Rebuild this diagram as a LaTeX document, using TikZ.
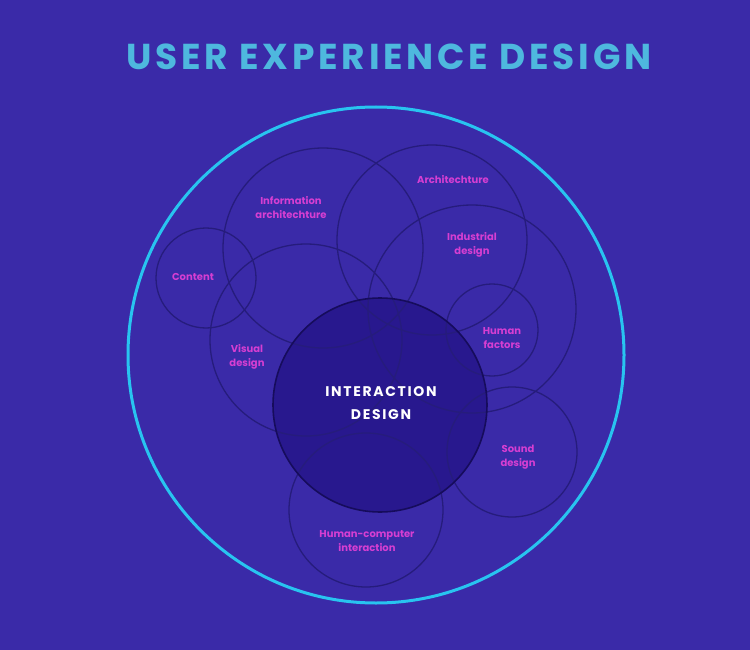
\documentclass[tikz,border=0pt]{standalone}
\usepackage{fontspec}
\setmainfont{Poppins}
\newfontfamily\spacedfont[LetterSpace=12]{Poppins}
\newfontfamily\titlefont[LetterSpace=10.5]{Poppins}
\definecolor{uxbg}{RGB}{58,42,168}
\definecolor{uxcyan}{RGB}{40,196,240}
\definecolor{uxtitle}{RGB}{78,184,222}
\definecolor{uxpink}{RGB}{214,62,210}
\definecolor{uxring}{RGB}{38,28,124}
\definecolor{uxcore}{RGB}{38,22,138}
\definecolor{uxcoreline}{RGB}{22,12,92}
\begin{document}
\begin{tikzpicture}[x=1pt,y=-1pt,
  ring/.style={draw=uxring,line width=1.3pt},
  area/.style={font=\bfseries\fontsize{10}{14}\selectfont,text=uxpink,align=center}]
\fill[uxbg] (0,0) rectangle (750,650);
\useasboundingbox (0,0) rectangle (750,650);
\node[font=\titlefont\bfseries\fontsize{36}{40}\selectfont,text=uxtitle] (title) at (389,57) {USER EXPERIENCE DESIGN};
% interaction core
\fill[uxcore,opacity=0.85] (380,405) circle (107);
% overlapping areas
\foreach \cx/\cy/\r in {323/248/100,432/240/95,472/309/104,492/330/46,206/278/50,306/340/96,512/452/65,366/510/77}
  \draw[ring] (\cx,\cy) circle (\r);
\draw[uxcoreline,line width=1.6pt] (380,405) circle (107);
\draw[uxcyan,line width=3pt] (376,355) circle (248);
\node[area] (info) at (291,208) {Information\\architechture};
\node[area] (arch) at (453,180) {Architechture};
\node[area] (indus) at (472,245) {Industrial\\design};
\node[area] (content) at (193,277) {Content};
\node[area] (human) at (502,338) {Human\\factors};
\node[area] (visual) at (247,357) {Visual\\design};
\node[area] (sound) at (518,457) {Sound\\design};
\node[area] (hci) at (367,541) {Human-computer\\interaction};
\node[font=\spacedfont\bfseries\fontsize{14}{23}\selectfont,text=white,align=center] (core) at (381,403) {INTERACTION\\DESIGN};
\end{tikzpicture}
\end{document}
